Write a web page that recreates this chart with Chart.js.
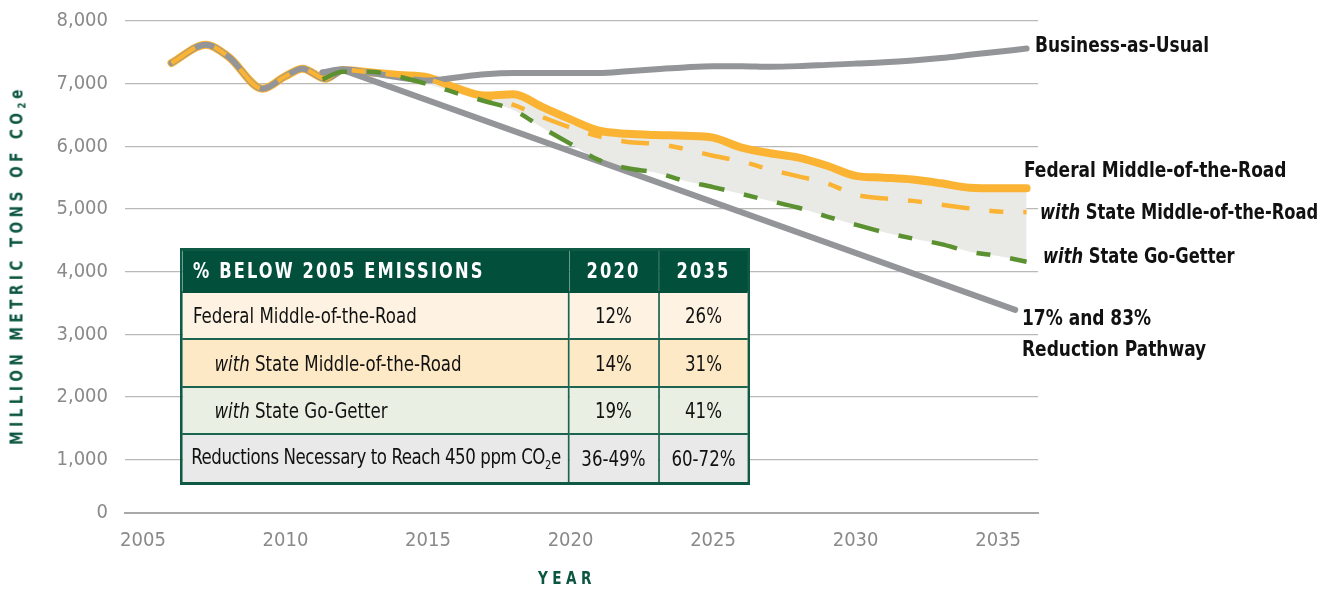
<!DOCTYPE html>
<html>
<head>
<meta charset="utf-8">
<script src="https://cdn.jsdelivr.net/npm/chart.js@4/dist/chart.umd.min.js"></script>
<style>
  body { margin: 0; background: #fff; }
  #wrap {
    position: relative; width: 1331px; height: 590px; overflow: hidden;
    font-family: "Liberation Sans Narrow", "DejaVu Sans Condensed", sans-serif;
  }
  #chart { position: absolute; left: 0; top: 0; }
  .axis-title {
    position: absolute; color: #0b5641; font-weight: bold; font-size: 17px;
    letter-spacing: 5px; white-space: nowrap; line-height: 1;
  }
  .axis-title sub { font-size: 11px; vertical-align: -3px; letter-spacing: 4px; }
  .lbl {
    position: absolute; font-weight: bold; font-size: 22px; color: #111;
    white-space: nowrap; line-height: 1; transform-origin: left center;
    transform: translateY(-50%) scaleX(0.86);
  }
  .lbl.w { transform: translateY(-50%) scaleX(0.825); }
  #tblbox { position: absolute; left: 180px; top: 248px; transform-origin: left top; transform: scaleX(0.86); }
  #tbl {
    width: 660px; border-collapse: collapse; table-layout: fixed;
    border: 3px solid #0f5a44; font-size: 21.5px; color: #111;
  }
  #tbl td { border: 2px solid #1d6450; padding: 0 0 0 12px; white-space: nowrap; overflow: hidden; }
  #tbl td.n { text-align: center; padding: 0; }
  #tbl tr.h td {
    background: #02503c; color: #fff; font-weight: bold; font-size: 21px;
    letter-spacing: 2.5px; height: 40px; border-color: #02503c;
  }
  #tbl tr.r1 td { background: #fef3e3; height: 45px; }
  #tbl tr.r2 td { background: #fde9c6; height: 46px; }
  #tbl tr.r3 td { background: #e9efe3; height: 45px; }
  #tbl tr.r4 td { background: #e8e9e8; height: 47px; }
  #tbl td.ind { padding-left: 37px; }
  #tbl td.long { padding-left: 10px; letter-spacing: -0.5px; }
  #tbl sub { font-size: 13px; }
</style>
</head>
<body>
<div id="wrap">
  <canvas id="chart" width="1331" height="590"></canvas>

  <div class="axis-title" style="left:18px; top:265px; transform: translate(-50%,-50%) rotate(-90deg) scaleX(0.89);">MILLION METRIC TONS OF CO<sub>2</sub>e</div>
  <div class="axis-title" style="left:567px; top:578px; transform: translate(-50%,-50%) scaleX(0.89);">YEAR</div>

  <div class="lbl" style="left:1035px; top:45px;">Business-as-Usual</div>
  <div class="lbl" style="left:1024px; top:170px;">Federal Middle-of-the-Road</div>
  <div class="lbl w" style="left:1040px; top:212px;"><i>with</i> State Middle-of-the-Road</div>
  <div class="lbl w" style="left:1043px; top:256px;"><i>with</i> State Go-Getter</div>
  <div class="lbl" style="left:1022px; top:318px;">17% and 83%</div>
  <div class="lbl" style="left:1022px; top:349px;">Reduction Pathway</div>

  <div id="tblbox">
    <table id="tbl">
      <colgroup><col style="width:450px"><col style="width:105px"><col style="width:105px"></colgroup>
      <tr class="h"><td>% BELOW 2005 EMISSIONS</td><td class="n">2020</td><td class="n">2035</td></tr>
      <tr class="r1"><td>Federal Middle-of-the-Road</td><td class="n">12%</td><td class="n">26%</td></tr>
      <tr class="r2"><td class="ind"><i>with</i> State Middle-of-the-Road</td><td class="n">14%</td><td class="n">31%</td></tr>
      <tr class="r3"><td class="ind"><i>with</i> State Go-Getter</td><td class="n">19%</td><td class="n">41%</td></tr>
      <tr class="r4"><td class="long">Reductions Necessary to Reach 450 ppm CO<sub>2</sub>e</td><td class="n">36-49%</td><td class="n">60-72%</td></tr>
    </table>
  </div>
</div>

<script>
  // shared history, million metric tons CO2e
  const historyYears = [2006, 2007.2, 2008, 2009.2, 2010, 2010.6, 2011.4, 2012];
  const historyValues = [7330, 7620, 7430, 6920, 7120, 7240, 7080, 7220];

  // projections 2013..2036
  const projYears = [2013, 2014, 2015, 2016, 2017, 2018, 2019, 2020, 2021, 2022, 2023, 2024,
                     2025, 2026, 2027, 2028, 2029, 2030, 2031, 2032, 2033, 2034, 2035, 2036];
  const federalValues = [7180, 7140, 7100, 6930, 6810, 6830, 6630, 6430, 6250, 6200, 6180, 6170,
                         6140, 5980, 5890, 5820, 5690, 5530, 5500, 5470, 5410, 5340, 5330, 5330];
  const stateMidValues = [7180, 7130, 7070, 6920, 6780, 6660, 6470, 6300, 6160, 6070, 6040, 5960,
                          5850, 5760, 5630, 5520, 5410, 5230, 5170, 5130, 5070, 5010, 4960, 4950];

  // these two start off the history at 2011.3
  const branchYears = [2011.3, 2012].concat(projYears);
  const goGetterValues = [7070, 7190, 7190, 7110, 6990, 6850, 6720, 6580, 6300, 6040, 5780, 5650, 5580,
                          5450, 5350, 5240, 5130, 5020, 4880, 4750, 4630, 4530, 4440, 4320, 4250, 4160];
  const bauValues = [7180, 7230, 7170, 7100, 7050, 7100, 7150, 7170, 7170, 7170, 7170, 7200, 7230,
                     7260, 7280, 7280, 7270, 7280, 7300, 7320, 7340, 7370, 7410, 7460, 7510, 7560];

  const pathwayYears = [2011.3, 2012, 2035.6];
  const pathwayValues = [7180, 7220, 3390];

  const xTicks = [2005, 2010, 2015, 2020, 2025, 2030, 2035];
  const yTicks = [0, 1000, 2000, 3000, 4000, 5000, 6000, 7000, 8000];

  const Y_MIN = 150; // bottom axis line sits a bit above a true zero in the original
  const GRAY = '#939598';
  const YELLOW = '#fbb333';
  const GREEN = '#5c9131';
  const FONT = '"Liberation Sans Narrow", "DejaVu Sans Condensed", sans-serif';

  function pts(xs, ys) {
    return xs.map((x, i) => ({ x: x, y: ys[i] }));
  }

  const withHistory = vals => pts(historyYears.concat(projYears), historyValues.concat(vals));

  // dataset 0 is drawn on top
  const datasets = [
    {
      label: 'with State Go-Getter', data: pts(branchYears, goGetterValues),
      borderColor: GREEN, borderWidth: 4.5, borderDash: [26, 20, 14, 20], borderCapStyle: 'butt',
      fill: { target: 5 }, backgroundColor: '#e9eae6'
    },
    {
      label: 'with State Middle-of-the-Road', data: withHistory(stateMidValues),
      borderColor: YELLOW, borderWidth: 4.5, borderDash: [28, 20, 14, 20], borderCapStyle: 'butt', fill: false
    },
    {
      label: 'History', data: pts(historyYears, historyValues),
      borderColor: GRAY, borderWidth: 6, fill: false
    },
    {
      label: 'Business-as-Usual', data: pts(branchYears, bauValues),
      borderColor: GRAY, borderWidth: 6, fill: false
    },
    {
      label: '17% and 83% Reduction Pathway', data: pts(pathwayYears, pathwayValues),
      borderColor: GRAY, borderWidth: 6, fill: false, cubicInterpolationMode: 'default', tension: 0
    },
    {
      label: 'Federal Middle-of-the-Road', data: withHistory(federalValues),
      borderColor: YELLOW, borderWidth: 8, fill: false
    }
  ];

  new Chart(document.getElementById('chart').getContext('2d'), {
    type: 'line',
    data: { datasets: datasets },
    options: {
      responsive: false,
      animation: false,
      layout: { padding: { left: 0, right: 293, top: 21, bottom: 0 } },
      elements: {
        point: { radius: 0 },
        line: { cubicInterpolationMode: 'monotone', borderCapStyle: 'round', borderJoinStyle: 'round' }
      },
      plugins: {
        legend: { display: false },
        tooltip: { enabled: false },
        filler: { drawTime: 'beforeDatasetsDraw' }
      },
      scales: {
        x: {
          type: 'linear', min: 2004.37, max: 2036.4,
          afterBuildTicks: s => { s.ticks = xTicks.map(v => ({ value: v })); },
          afterFit: s => { s.height = 77; },
          grid: { display: false, drawTicks: false },
          border: { display: true, color: '#a9a9a7', width: 2 },
          ticks: {
            padding: 16, color: '#8a8a8a', font: { family: FONT, size: 20 },
            callback: v => String(v)
          }
        },
        y: {
          type: 'linear', min: Y_MIN, max: 8000,
          afterBuildTicks: s => { s.ticks = yTicks.map(v => ({ value: Math.max(v, Y_MIN) })); },
          // fixed width, and no extra top padding from the tick labels
          afterFit: s => { s.width = 125; s.paddingTop = 0; s.paddingBottom = 0; },
          grid: { color: '#b9b9b6', lineWidth: 1.3, drawTicks: false },
          border: { display: false },
          ticks: {
            padding: 17, color: '#8a8a8a', font: { family: FONT, size: 20 },
            callback: v => v <= Y_MIN ? '0' : v.toLocaleString('en-US')
          }
        }
      }
    }
  });
</script>
</body>
</html>
